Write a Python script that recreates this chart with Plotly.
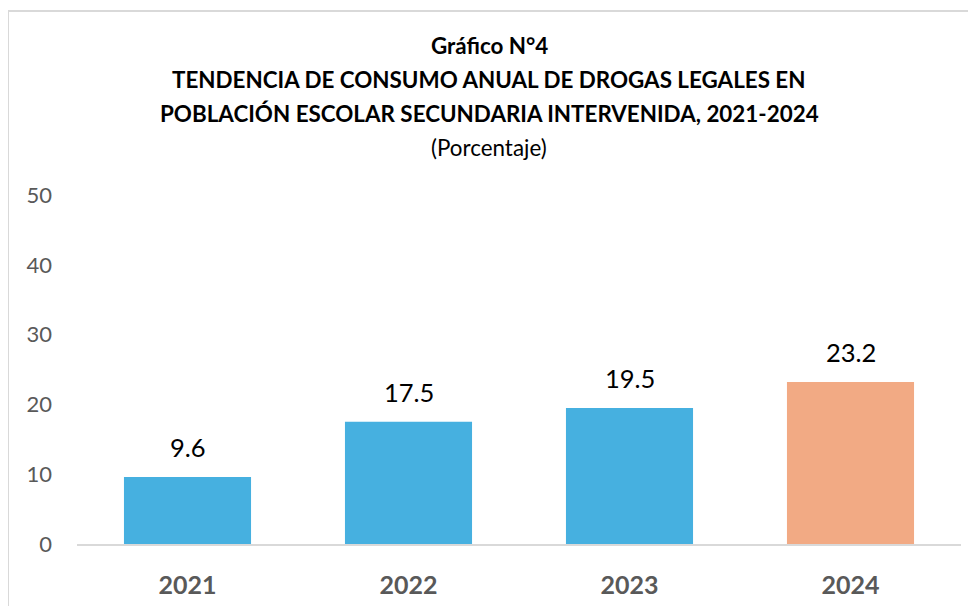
import plotly.graph_objects as go

years = ["2021", "2022", "2023", "2024"]
values = [9.6, 17.5, 19.5, 23.2]
colors = ["#46B0E0", "#46B0E0", "#46B0E0", "#F2AA84"]
y_ticks = [0, 10, 20, 30, 40, 50]
title_lines = [
    "<b>Gráfico N°4</b>",
    "<b>TENDENCIA DE CONSUMO ANUAL DE DROGAS LEGALES EN</b>",
    "<b>POBLACIÓN ESCOLAR SECUNDARIA INTERVENIDA, 2021-2024</b>",
    "(Porcentaje)",
]

FONT = "Lato"
OFF = 8  # page body margin
W, H = 976, 606
L, R, T, B = 77 - OFF, 15 + OFF, 195 - OFF, 62 + OFF
pw, ph = W - L - R, H - T - B

def px_x(x):
    return (x - OFF - L) / pw

def px_y(y):
    return (H - B - (y - OFF)) / ph

fig = go.Figure()
fig.add_trace(go.Bar(
    x=years, y=values, marker=dict(color=colors, line=dict(width=0)),
    width=0.575, hoverinfo="skip",
))

for i, v in enumerate(values):
    fig.add_annotation(x=i, y=v, text=f"{v:.1f}", showarrow=False,
                       yanchor="bottom", yshift=13,
                       font=dict(family=FONT, size=25.5, color="#000000"))

line_y = [45, 79, 113, 147]
for txt, py in zip(title_lines, line_y):
    fig.add_annotation(xref="paper", yref="paper",
                       x=px_x(489), y=px_y(py),
                       text=txt, showarrow=False, xanchor="center", yanchor="middle",
                       font=dict(family=FONT, size=22.4, color="#000000"))

# outer chart border
fig.add_shape(type="rect", xref="paper", yref="paper",
              x0=px_x(8), x1=px_x(W + 30),
              y0=px_y(H + 30), y1=px_y(11),
              line=dict(color="#D9D9D9", width=2), fillcolor="rgba(0,0,0,0)", layer="below")

fig.update_layout(
    width=W, height=H,
    margin=dict(l=L, r=R, t=T, b=B, autoexpand=False),
    paper_bgcolor="white", plot_bgcolor="white",
    showlegend=False, bargap=0.425,
    font=dict(family=FONT),
    xaxis=dict(type="category", range=[-0.5, len(years) - 0.5],
               showgrid=False, showline=True, linecolor="#D9D9D9", linewidth=2,
               ticks="", tickfont=dict(family=FONT, size=25, color="#595959", weight="bold"),
               ticklabelstandoff=18, fixedrange=True),
    yaxis=dict(range=[0, 50], tickvals=y_ticks, showgrid=False, showline=False,
               zeroline=False, ticks="",
               tickfont=dict(family=FONT, size=22, color="#595959"),
               ticklabelstandoff=24, fixedrange=True),
)

fig.write_html("out.html")
